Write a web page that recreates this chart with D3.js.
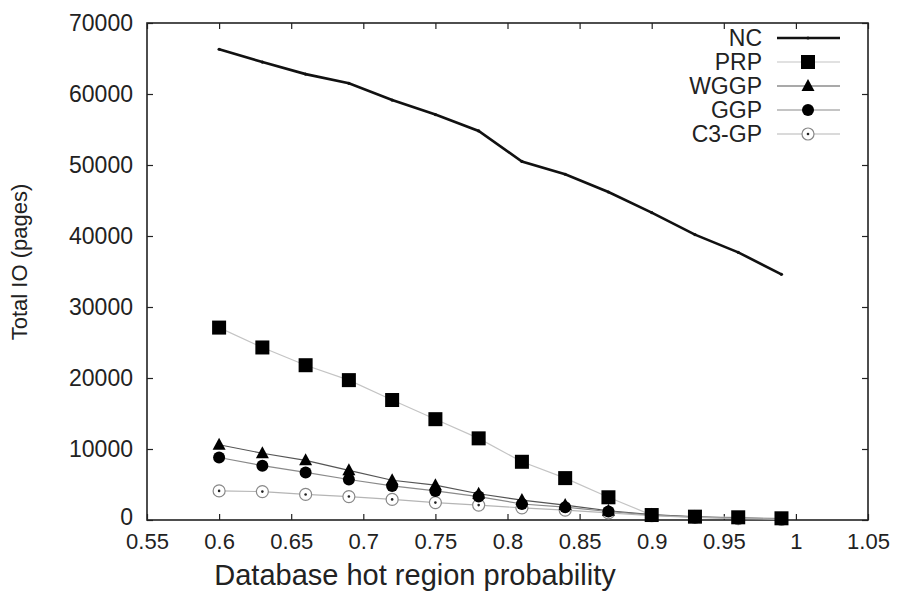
<!DOCTYPE html>
<html>
<head>
<meta charset="utf-8">
<script src="https://cdn.jsdelivr.net/npm/d3@7"></script>
<style>
  body { margin: 0; background: #fff; }
  text { font-family: Arial, "Liberation Sans", sans-serif; fill: #222; }
</style>
</head>
<body>
<div id="chart"></div>
<script>
var margin = { top: 23, right: 29, bottom: 72, left: 147 },
    width = 897 - margin.left - margin.right,
    height = 592 - margin.top - margin.bottom;

// hot region probability (x)
var probs = [0.6, 0.63, 0.66, 0.69, 0.72, 0.75, 0.78, 0.81, 0.84, 0.87, 0.9, 0.93, 0.96, 0.99];
// total IO per method
var ncVals   = [66300, 64500, 62800, 61500, 59150, 57100, 54800, 50500, 48700, 46200, 43300, 40200, 37700, 34600];
var prpVals  = [27100, 24300, 21800, 19700, 16900, 14200, 11500, 8200, 5900, 3200, 700, 470, 380, 240];
var wggpVals = [10600, 9400, 8400, 7000, 5600, 4900, 3700, 2800, 2100, 1300, 750, 450, 280, 160];
var ggpVals  = [8800, 7650, 6700, 5700, 4800, 4100, 3300, 2250, 1800, 1200, 700, 400, 250, 140];
var c3gpVals = [4100, 4000, 3600, 3300, 2900, 2450, 2100, 1700, 1400, 1000, 600, 380, 200, 100];

var xTicks = [0.55, 0.6, 0.65, 0.7, 0.75, 0.8, 0.85, 0.9, 0.95, 1, 1.05];
var yTicks = [0, 10000, 20000, 30000, 40000, 50000, 60000, 70000];

var series = [
    { name: "NC",    values: ncVals,   line: "#111", lw: 2.6, marker: "dot" },
    { name: "PRP",   values: prpVals,  line: "#c4c4c4", lw: 1.2, marker: "square" },
    { name: "WGGP",  values: wggpVals, line: "#555", lw: 1.2, marker: "triangle" },
    { name: "GGP",   values: ggpVals,  line: "#8a8a8a", lw: 1.2, marker: "circle" },
    { name: "C3-GP", values: c3gpVals, line: "#b5b5b5", lw: 1.2, marker: "ring" }
];

var svg = d3.select("#chart")
    .append("svg")
    .attr("width", width + margin.left + margin.right)
    .attr("height", height + margin.top + margin.bottom)
    .append("g")
    .attr("transform", "translate(" + margin.left + "," + margin.top + ")");

var x = d3.scaleLinear().domain([0.55, 1.05]).range([0, width]);
var y = d3.scaleLinear().domain([0, 70000]).range([height, 0]);

// axes, gnuplot style: inward ticks mirrored on all sides
var xAxis = svg.append("g")
    .attr("transform", "translate(0," + height + ")")
    .call(d3.axisBottom(x).tickValues(xTicks).tickSizeInner(-6).tickSizeOuter(0).tickPadding(12)
        .tickFormat(d => String(+d.toFixed(2))));
xAxis.selectAll("text").style("font-size", "22px").attr("dy", "0.75em");

svg.append("g")
    .call(d3.axisTop(x).tickValues(xTicks).tickSizeInner(-6).tickSizeOuter(0).tickFormat(""));

var yAxis = svg.append("g")
    .call(d3.axisLeft(y).tickValues(yTicks).tickSizeInner(-6).tickSizeOuter(0).tickPadding(14)
        .tickFormat(d3.format("d")));
yAxis.selectAll("text").style("font-size", "23px");
// lift the bottom "0" a little so it clears the x labels
yAxis.selectAll("text").filter(d => d === 0).attr("dy", "0.2em");

svg.append("g")
    .attr("transform", "translate(" + width + ",0)")
    .call(d3.axisRight(y).tickValues(yTicks).tickSizeInner(-6).tickSizeOuter(0).tickFormat(""));

svg.selectAll(".domain").remove();
svg.selectAll(".tick line").attr("stroke", "#222").attr("stroke-width", 1.2);

svg.append("rect")
    .attr("width", width)
    .attr("height", height)
    .attr("fill", "none")
    .attr("stroke", "#222")
    .attr("stroke-width", 1.6);

// axis titles
svg.append("text")
    .attr("x", 415 - margin.left)
    .attr("y", height + 65)
    .attr("text-anchor", "middle")
    .style("font-size", "29px")
    .text("Database hot region probability");

svg.append("text")
    .attr("transform", "translate(" + (-120) + "," + (262 - margin.top) + ") rotate(-90)")
    .attr("text-anchor", "middle")
    .style("font-size", "22px")
    .text("Total IO (pages)");

function drawMarker(g, kind) {
    if (kind === "dot") {
        g.append("circle").attr("r", 1.6).attr("fill", "#111");
    } else if (kind === "square") {
        g.append("rect").attr("x", -7).attr("y", -7).attr("width", 14).attr("height", 14).attr("fill", "#000");
    } else if (kind === "triangle") {
        g.append("path").attr("d", "M0,-7L6.5,5L-6.5,5Z").attr("fill", "#000");
    } else if (kind === "circle") {
        g.append("circle").attr("r", 6).attr("fill", "#000");
    } else if (kind === "ring") {
        g.append("circle").attr("r", 6).attr("fill", "#fff").attr("stroke", "#888").attr("stroke-width", 1.2);
        g.append("circle").attr("r", 1.3).attr("fill", "#222");
    }
}

var line = d3.line()
    .x((d, i) => x(probs[i]))
    .y(d => y(d));

series.forEach(function (s) {
    svg.append("path")
        .datum(s.values)
        .attr("fill", "none")
        .attr("stroke", s.line)
        .attr("stroke-width", s.lw)
        .attr("d", line);
});

// markers back to front so the small series sit on top
series.slice().reverse().forEach(function (s) {
    svg.append("g")
        .selectAll("g")
        .data(s.values)
        .enter()
        .append("g")
        .attr("transform", (d, i) => "translate(" + x(probs[i]) + "," + y(d) + ")")
        .each(function () { drawMarker(d3.select(this), s.marker); });
});

// legend
var legend = svg.append("g").attr("transform", "translate(" + (762 - margin.left) + "," + (38 - margin.top) + ")");
series.forEach(function (s, i) {
    var row = legend.append("g").attr("transform", "translate(0," + (i * 24) + ")");
    row.append("text")
        .attr("x", 0)
        .attr("y", 0)
        .attr("dy", "0.35em")
        .attr("text-anchor", "end")
        .style("font-size", "23px")
        .text(s.name);
    row.append("line")
        .attr("x1", 15).attr("x2", 78)
        .attr("stroke", s.line)
        .attr("stroke-width", s.lw);
    var m = row.append("g").attr("transform", "translate(46,0)");
    drawMarker(m, s.marker);
});
</script>
</body>
</html>
